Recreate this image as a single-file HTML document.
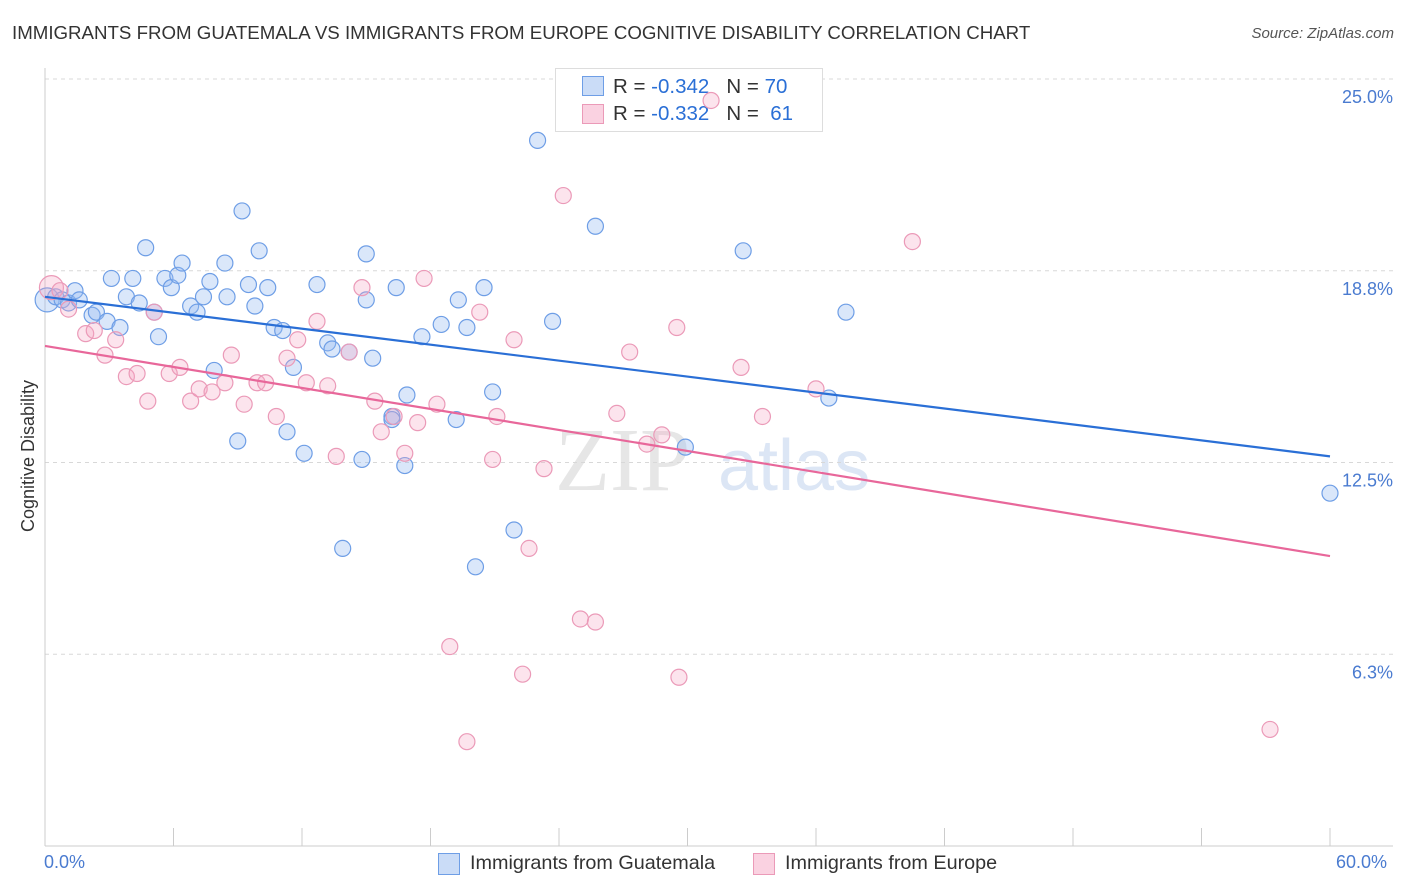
<!DOCTYPE html>
<html><head><meta charset="utf-8"><style>
body{margin:0;background:#fff;font-family:"Liberation Sans",sans-serif;}
#wrap{position:relative;width:1406px;height:892px;overflow:hidden;}
.t{position:absolute;white-space:nowrap;}
</style></head><body>
<div id="wrap">
<div class="t" style="left:12px;top:22px;font-size:18.7px;color:#333;">IMMIGRANTS FROM GUATEMALA VS IMMIGRANTS FROM EUROPE COGNITIVE DISABILITY CORRELATION CHART</div>
<div class="t" style="right:12px;top:25px;font-size:15px;color:#555;font-style:italic;">Source: ZipAtlas.com</div>
<svg id="svg" width="1406" height="892" style="position:absolute;left:0;top:0"></svg>
<div style="position:absolute;left:555px;top:68px;width:266px;height:62px;border:1px solid #ddd;background:#fff;font-size:20.5px;color:#333">
 <div class="t" style="left:26px;top:7px;width:20px;height:18px;background:rgba(150,185,240,0.5);border:1px solid #6e9ee6"></div>
 <div class="t" style="left:57px;top:6px">R = <span style="color:#2a6fd6">-0.342</span> &nbsp;&nbsp;N = <span style="color:#2a6fd6">70</span></div>
 <div class="t" style="left:26px;top:35px;width:20px;height:18px;background:rgba(245,165,195,0.5);border:1px solid #eb9ab8"></div>
 <div class="t" style="left:57px;top:33px">R = <span style="color:#2a6fd6">-0.332</span> &nbsp;&nbsp;N = &nbsp;<span style="color:#2a6fd6">61</span></div>
</div>
<svg id="svg2" width="1406" height="892" style="position:absolute;left:0;top:0"></svg>
</div>
<script>
const blueX=[0.1,0.5,0.8,1.1,1.4,1.6,2.2,2.4,2.9,3.1,3.5,3.8,4.1,4.4,4.7,5.1,5.3,5.6,5.9,6.2,6.4,6.8,7.1,7.4,7.7,7.9,8.4,8.5,9.0,9.2,9.5,9.8,10.0,10.4,10.7,11.1,11.3,11.6,12.1,12.7,13.2,13.4,14.2,14.8,15.0,15.0,15.3,16.2,16.4,16.8,16.9,17.6,18.5,19.2,19.3,19.7,20.1,20.5,20.9,21.9,23.0,23.7,25.7,29.9,32.6,36.6,37.4,60.0,13.9,16.2];
const blueY=[17.8,17.9,17.8,17.7,18.1,17.8,17.3,17.4,17.1,18.5,16.9,17.9,18.5,17.7,19.5,17.4,16.6,18.5,18.2,18.6,19.0,17.6,17.4,17.9,18.4,15.5,19.0,17.9,13.2,20.7,18.3,17.6,19.4,18.2,16.9,16.8,13.5,15.6,12.8,18.3,16.4,16.2,16.1,12.6,17.8,19.3,15.9,14.0,18.2,12.4,14.7,16.6,17.0,13.9,17.8,16.9,9.1,18.2,14.8,10.3,23.0,17.1,20.2,13.0,19.4,14.6,17.4,11.5,9.7,13.9];
const pinkX=[0.3,0.7,1.1,1.9,2.3,2.8,3.3,3.8,4.3,4.8,5.1,5.8,6.3,6.8,7.2,7.8,8.4,8.7,9.3,9.9,10.3,10.8,11.3,11.8,12.2,12.7,13.2,13.6,14.2,14.8,15.4,15.7,16.3,16.8,17.4,17.7,18.3,18.9,19.7,20.3,20.9,21.1,21.9,22.3,22.6,23.3,24.2,25.0,25.7,26.7,27.3,28.1,28.8,29.5,29.6,31.1,32.5,33.5,36.0,40.5,57.2];
const pinkY=[18.2,18.1,17.5,16.7,16.8,16.0,16.5,15.3,15.4,14.5,17.4,15.4,15.6,14.5,14.9,14.8,15.1,16.0,14.4,15.1,15.1,14.0,15.9,16.5,15.1,17.1,15.0,12.7,16.1,18.2,14.5,13.5,14.0,12.8,13.8,18.5,14.4,6.5,3.4,17.4,12.6,14.0,16.5,5.6,9.7,12.3,21.2,7.4,7.3,14.1,16.1,13.1,13.4,16.9,5.5,24.3,15.6,14.0,14.9,19.7,3.8];
const blueTrend=[17.9,12.7];
const pinkTrend=[16.3,9.45];
const yTicks=[25.0,18.75,12.5,6.25];
const yTickLabels=["25.0%","18.8%","12.5%","6.3%"];
const xTicks=[0,6,12,18,24,30,36,42,48,54,60];

const NS="http://www.w3.org/2000/svg";
const svg=document.getElementById('svg');
const svg2=document.getElementById('svg2');
const X=v=>45+v/60*1285;
const Y=v=>846-v*30.68;
function mk(tag,a,p){const e=document.createElementNS(NS,tag);for(const k in a)e.setAttribute(k,a[k]);(p||svg).appendChild(e);return e;}
let w=mk('text',{x:555,y:490,'font-size':90,'font-family':'Liberation Serif',fill:'#e6e6e6'});w.textContent='ZIP';


let w2=mk('text',{x:718,y:490,'font-size':72,'font-family':'Liberation Sans',fill:'#dce6f5'});w2.textContent='atlas';


yTicks.forEach((v,i)=>{
 const g=mk('line',{x1:45,x2:1393,y1:Y(v),y2:Y(v),stroke:'#d8d8d8','stroke-dasharray':'4,4'});
 
 
 const t=mk('text',{x:1393,y:Y(v)+24,'text-anchor':'end','font-size':18,fill:'#4a7bd0'});t.textContent=yTickLabels[i];
 
 
});
let ax=mk('line',{x1:45,x2:45,y1:68,y2:846,stroke:'#ccc'});


let bx=mk('line',{x1:45,x2:1393,y1:846,y2:846,stroke:'#ccc'});


xTicks.forEach(v=>{const l=mk('line',{x1:X(v),x2:X(v),y1:828,y2:846,stroke:'#ccc'});
 
 });
function pts(xs,ys,fill,stroke,name){xs.forEach((x,i)=>{const c=mk('circle',{cx:X(x),cy:Y(ys[i]),r:(i==0?12:8),fill:fill,stroke:stroke,'stroke-width':1.2},svg2);
 
 });}
pts(blueX,blueY,'rgba(150,185,240,0.35)','#6e9ee6','point-guatemala');
pts(pinkX,pinkY,'rgba(245,165,195,0.3)','#eb9ab8','point-europe');
let bl=mk('line',{x1:X(0),y1:Y(blueTrend[0]),x2:X(60),y2:Y(blueTrend[1]),stroke:'#2a6fd6','stroke-width':2.2},svg2);


let pl=mk('line',{x1:X(0),y1:Y(pinkTrend[0]),x2:X(60),y2:Y(pinkTrend[1]),stroke:'#e8679a','stroke-width':2.2},svg2);


let yl=mk('text',{x:34,y:456,'font-size':18,fill:'#333','text-anchor':'middle',transform:'rotate(-90 34 456)'});yl.textContent='Cognitive Disability';


</script>
<div class="t" style="left:44px;top:852px;font-size:18px;color:#4a7bd0">0.0%</div>
<div class="t" style="left:1336px;top:852px;font-size:18px;color:#4a7bd0">60.0%</div>
<div class="t" style="left:438px;top:853px;width:20px;height:20px;background:rgba(150,185,240,0.5);border:1px solid #6e9ee6"></div>
<div class="t" style="left:470px;top:852px;font-size:19.8px;color:#333">Immigrants from Guatemala</div>
<div class="t" style="left:753px;top:853px;width:20px;height:20px;background:rgba(245,165,195,0.5);border:1px solid #eb9ab8"></div>
<div class="t" style="left:785px;top:852px;font-size:19.8px;color:#333">Immigrants from Europe</div>
</body></html>
